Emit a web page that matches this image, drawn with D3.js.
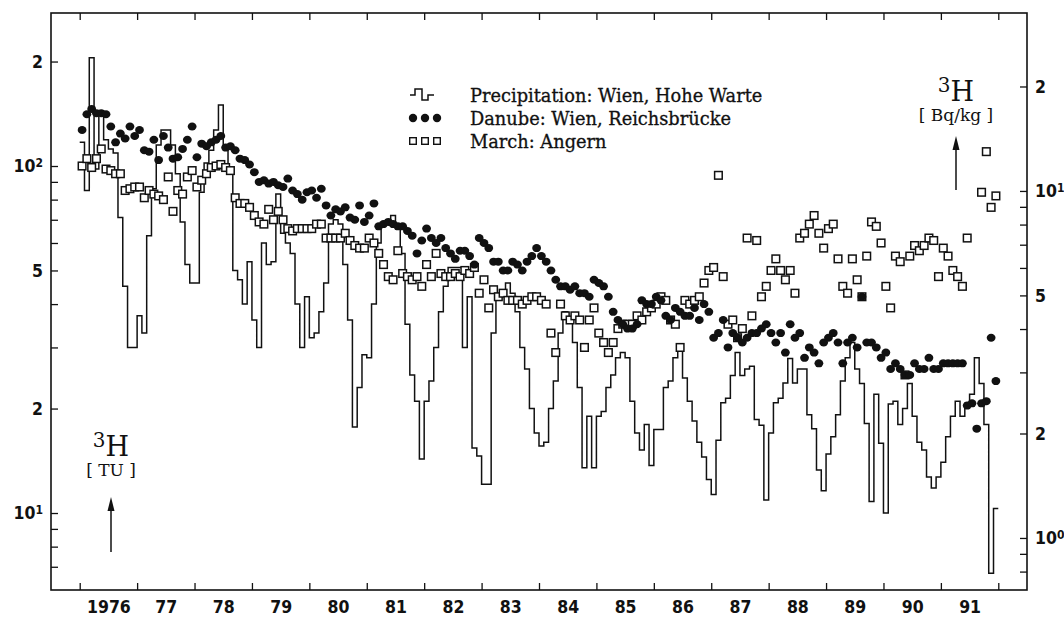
<!DOCTYPE html>
<html>
<head>
<meta charset="utf-8">
<script src="https://cdn.jsdelivr.net/npm/d3@7"></script>
<style>
  body { margin: 0; background: #fff; }
  .num { font-family: "Liberation Sans Narrow", "DejaVu Sans Condensed", "Liberation Sans", sans-serif; font-weight: bold; font-size: 17.5px; fill: #111; }
  .serif { font-family: "DejaVu Serif", "Liberation Serif", serif; fill: #111; }
</style>
</head>
<body>
<div id="chart"></div>
<script>
// monthly values, Jan 1976 .. Dec 1991 (tritium, TU)
const startYear = 1976;

const precipitation = [
  117, 85, 205, 98, 143, 119, 112, 109, 71, 45, 30, 30,          // 1976
  37, 33, 63, 86, 115, 127, 127, 115, 95, 69, 52, 46,            // 1977
  46, 84, 102, 111, 127, 150, 114, 95, 50, 47, 40, 53,           // 1978
  36, 30, 60, 52, 53, 83, 64, 60, 56, 40, 30, 42,                // 1979
  32, 33, 38, 46, 68, 70, 68, 52, 36, 17.7, 23, 28.6,            // 1980
  28, 40, 60, 68, 70, 72, 68, 56, 35, 25, 21, 14.3,              // 1981
  21, 24, 30, 38, 45, 51, 51, 51, 30, 42, 15.4, 14.6,            // 1982
  12.1, 12.1, 33, 41, 44, 46, 43, 38, 30, 26, 20, 17,            // 1983
  15.6, 16, 20, 24, 33, 38, 36, 31, 23, 13.5, 19, 13.5,          // 1984
  19, 19.6, 23, 25, 28, 29, 28, 21, 17, 15.2, 18, 13.7,          // 1985
  17.4, 17.4, 23, 24, 28, 30, 24.5, 21, 18.4, 16, 14.5, 12.5,    // 1986
  11.3, 16.2, 20.8, 21.4, 24.9, 29, 24.9, 26, 26.5, 18.6, 17.9, 10.9, // 1987
  17, 20.8, 21.4, 23.7, 27.9, 23.7, 26, 26, 19.2, 17.5, 13.3, 11.6,   // 1988
  14.8, 16.6, 19.2, 24, 28, 31, 26, 23.6, 18.1, 10.8, 22, 15.9,  // 1989
  10, 20.6, 21, 18, 20, 23.6, 19, 16, 15.2, 12.7, 11.8, 12.7,    // 1990
  14, 16.6, 19, 21, 19, 20.7, 22, 28, 23.6, 18, 6.7, 10.3        // 1991
];

const danube = [
  127, 141, 146, 142, 142, 141, 130, 117, 124, 120, 130, 122,    // 1976
  127, 111, 110, 119, 104, 122, 113, 105, 106, 112, 119, 130,    // 1977
  106, 116, 114, 117, 119, 122, 113, 114, 111, 105, 104, 101,    // 1978
  96, 90, 91, 89, 90, 88, 87, 92, 85, 83, 80, 84,                // 1979
  85, 81, 86, 77, 72, 75, 74, 76, 71, 70, 77, 69,                // 1980
  72, 78, 67, 68, 69, 68, 67, 67, 65, 63, 56, 61,                // 1981
  66, 62, 60, 62, 58, 56, 54, 57, 57, 55, 52, 62,                // 1982
  60, 58, 53, 53, 50, 50, 53, 52, 50, 53, 55, 58,                // 1983
  55, 53, 50, 47, 45, 45, 44, 45, 43, 43, 42, 47,                // 1984
  46, 45, 42, 38, 36, 35, 34, 34, 35, 41, 40, 40,                // 1985
  42, 41, 37, 36, 39, 38, 37, 37, 39, 36, 40, 38,                // 1986
  32, 33, 36, 30, 33, 32, 31, 32, 33, 33, 34, 35,                // 1987
  33, 31, 33, 29, 35, 32, 33, 28, 30, 29, 27, 31,                // 1988
  32, 33, 31, 27, 31, 32, 30, 42, 31, 31, 30, 28,                // 1989
  29, 26, 27, 26, 25, 25, 27, 26, 26, 28, 26, 26,                // 1990
  27, 27, 27, 27, 27, 20.4, 20.7, 17.5, 20.7, 21, 32, 24         // 1991
];

const march = [
  100, 105, 99, 105, 112, 98, 97, 95, 95, 85, 86, 87,            // 1976
  87, 81, 85, 83, 82, 80, 93, 74, 85, 83, 93, 97,                // 1977
  87, 91, 95, 99, 100, 101, 99, 97, 81, 78, 78, 76,              // 1978
  72, 69, 68, 75, 70, 74, 70, 66, 65, 66, 66, 66,                // 1979
  66, 68, 68, 62, 62, 62, 62, 64, 61, 59, 58, 58,                // 1980
  62, 60, 56, 52, 48, 47, 57, 49, 48, 47, 48, 45,                // 1981
  52, 48, 56, 49, 48, 48, 49, 48, 50, 49, 51, 43,                // 1982
  47, 39, 44, 42, 43, 41, 41, 41, 40, 41, 42, 42,                // 1983
  41, 40, 33, 29, 40, 37, 36, 37, 36, 30, 36, 39,                // 1984
  33, 31, 29, 31, 34, 35, 35, 35, 37, 36, 38, 39,                // 1985
  40, 42, 41, 36, 35, 30, 41, 40, 41, 42, 46, 50,                // 1986
  51, 94, 48, 35, 36, 32, 34, 62, 37, 61, 42, 45,                // 1987
  50, 54, 50, 47, 50, 43, 62, 64, 68, 72, 64, 58,                // 1988
  66, 68, 54, 45, 43, 54, 47, 42, 55, 69, 67, 60,                // 1989
  45, 39, 55, 53, 25, 55, 59, 57, 59, 62, 61, 48,                // 1990
  58, 55, 50, 48, 45, 62, null, null, 84, 110, 76, 82            // 1991
];

const yearTicks = d3.range(1976, 1993);
const yearLabels = ["1976", "77", "78", "79", "80", "81", "82", "83", "84", "85", "86", "87", "88", "89", "90", "91"];

const tuTicks = [7, 8, 9, 10, 20, 30, 40, 50, 60, 70, 80, 90, 100, 200];
const tuLabels = [10, 20, 50, 100, 200];
const bqTicks = [0.8, 0.9, 1, 2, 3, 4, 5, 6, 7, 8, 9, 10, 20];
const bqLabels = [1, 2, 5, 10, 20];
const tuToBq = 0.118;

const legendItems = ["Precipitation: Wien, Hohe Warte", "Danube: Wien, Reichsbrücke", "March: Angern"];

const width = 1064, height = 619;
const frame = { left: 51, right: 1027, top: 13, bottom: 590 };

const svg = d3.select("#chart")
    .append("svg")
    .attr("width", width)
    .attr("height", height);

const x = d3.scaleLinear()
    .domain([1975.5, 1992.5])
    .range([frame.left, frame.right]);

const y = d3.scaleLog()
    .domain([6.0, 276])
    .range([frame.bottom, frame.top]);

const yBq = d3.scaleLog()
    .domain([6.0 * tuToBq, 276 * tuToBq])
    .range([frame.bottom, frame.top]);

const monthTime = i => startYear + i / 12;

// tick label: power of ten as 10^n, everything else as its leading digit
function labelText(sel, values) {
    sel.selectAll(".tick text").each(function(d) {
        const t = d3.select(this).text("");
        if (!values.includes(d)) return;
        const e = Math.round(Math.log10(d));
        if (Math.abs(Math.log10(d) - e) < 1e-9) {
            t.append("tspan").text("10");
            t.append("tspan").attr("dy", "-0.45em").style("font-size", "12px").text(e);
        } else {
            t.text(String(d).replace(/0+$/, ""));
        }
    });
}

// axes with inward ticks
const leftAxis = svg.append("g")
    .attr("transform", `translate(${frame.left},0)`)
    .call(d3.axisLeft(y).tickValues(tuTicks).tickSizeInner(-7).tickSizeOuter(0).tickPadding(8));
leftAxis.call(labelText, tuLabels);

const rightAxis = svg.append("g")
    .attr("transform", `translate(${frame.right},0)`)
    .call(d3.axisRight(yBq).tickValues(bqTicks).tickSizeInner(-7).tickSizeOuter(0).tickPadding(8));
rightAxis.call(labelText, bqLabels);

svg.append("g")
    .attr("transform", `translate(0,${frame.bottom})`)
    .call(d3.axisBottom(x).tickValues(yearTicks).tickSizeInner(-7).tickSizeOuter(0).tickFormat(""));

svg.append("g")
    .attr("transform", `translate(0,${frame.top})`)
    .call(d3.axisTop(x).tickValues(yearTicks).tickSizeInner(-7).tickSizeOuter(0).tickFormat(""));

svg.append("g")
    .attr("transform", `translate(0,${frame.bottom})`)
    .call(d3.axisBottom(x)
        .tickValues(yearLabels.map((d, i) => startYear + i + 0.5))
        .tickSize(0)
        .tickPadding(11)
        .tickFormat((d, i) => yearLabels[i]));

svg.selectAll(".domain").remove();
svg.selectAll(".tick line").attr("stroke", "#111").attr("stroke-width", 1.3);
svg.selectAll(".tick text").attr("class", "num").attr("fill", null);

svg.append("rect")
    .attr("x", frame.left)
    .attr("y", frame.top)
    .attr("width", frame.right - frame.left)
    .attr("height", frame.bottom - frame.top)
    .attr("fill", "none")
    .attr("stroke", "#111")
    .attr("stroke-width", 1.6);

// precipitation as monthly steps
const precipPoints = precipitation.map((v, i) => ({ t: monthTime(i), v }));
precipPoints.push({ t: monthTime(precipitation.length), v: precipitation[precipitation.length - 1] });

const stepLine = d3.line()
    .x(d => x(d.t))
    .y(d => y(d.v))
    .curve(d3.curveStepAfter);

svg.append("path")
    .datum(precipPoints)
    .attr("d", stepLine)
    .attr("fill", "none")
    .attr("stroke", "#111")
    .attr("stroke-width", 1.5);

// March: open squares
svg.append("g")
    .selectAll("rect")
    .data(march.map((v, i) => ({ t: monthTime(i + 0.5), v })).filter(d => d.v !== null))
    .enter()
    .append("rect")
    .attr("x", d => x(d.t) - 3.8)
    .attr("y", d => y(d.v) - 3.8)
    .attr("width", 7.6)
    .attr("height", 7.6)
    .attr("fill", "#fff")
    .attr("stroke", "#111")
    .attr("stroke-width", 1.5);

// Danube: filled dots
svg.append("g")
    .selectAll("ellipse")
    .data(danube.map((v, i) => ({ t: monthTime(i + 0.5), v })))
    .enter()
    .append("ellipse")
    .attr("cx", d => x(d.t))
    .attr("cy", d => y(d.v))
    .attr("rx", 4.4)
    .attr("ry", 4.0)
    .attr("fill", "#111");

// legend
const legend = svg.append("g").attr("transform", "translate(410, 0)");
const rowY = [95, 118, 141];

legend.append("path")
    .attr("d", `M0,${rowY[0]} h5 v-6 h7 v11 h6 v-5 h6`)
    .attr("fill", "none")
    .attr("stroke", "#111")
    .attr("stroke-width", 1.5);

legend.selectAll("circle")
    .data([3, 15, 27])
    .enter()
    .append("circle")
    .attr("cx", d => d)
    .attr("cy", rowY[1])
    .attr("r", 4.2)
    .attr("fill", "#111");

legend.selectAll("rect")
    .data([3, 15, 27])
    .enter()
    .append("rect")
    .attr("x", d => d - 3.3)
    .attr("y", rowY[2] - 3.3)
    .attr("width", 6.6)
    .attr("height", 6.6)
    .attr("fill", "none")
    .attr("stroke", "#111")
    .attr("stroke-width", 1.4);

legend.selectAll("text")
    .data(legendItems)
    .enter()
    .append("text")
    .attr("class", "serif")
    .attr("x", 60)
    .attr("y", (d, i) => rowY[i] + 6.5)
    .style("font-size", "17.8px")
    .attr("stroke", "#111")
    .attr("stroke-width", 0.3)
    .text(d => d);

// unit labels
function unitLabel(cx, top, unit, arrowTop, arrowBottom) {
    const g = svg.append("g");
    const h = g.append("text").attr("class", "serif").attr("x", cx).attr("y", top + 26)
        .attr("text-anchor", "middle");
    h.append("tspan").style("font-size", "20px").attr("dy", "-9").text("3");
    h.append("tspan").style("font-size", "27px").attr("dy", "9").text("H");
    g.append("text").attr("class", "serif").attr("x", cx).attr("y", top + 46)
        .attr("text-anchor", "middle").style("font-size", "17px").text(unit);
    g.append("line")
        .attr("x1", cx).attr("x2", cx)
        .attr("y1", arrowTop + 10).attr("y2", arrowBottom)
        .attr("stroke", "#111").attr("stroke-width", 1.5);
    g.append("path")
        .attr("d", `M${cx},${arrowTop} l-3.5,14 h7 z`)
        .attr("fill", "#111");
}

unitLabel(111, 430, "[ TU ]", 497, 552);
unitLabel(956, 75, "[ Bq/kg ]", 136, 190);
</script>
</body>
</html>
